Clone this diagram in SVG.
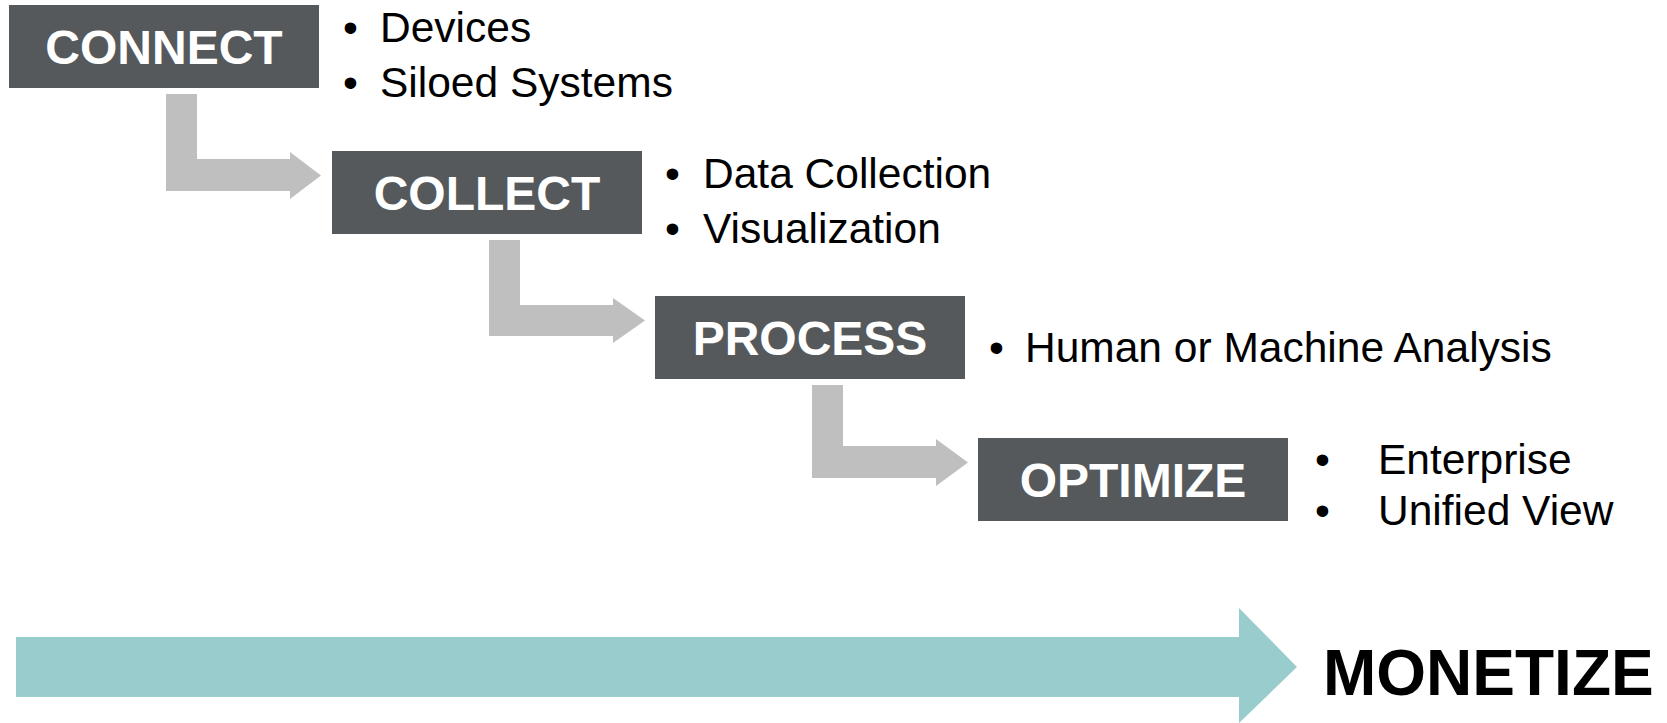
<svg xmlns="http://www.w3.org/2000/svg" width="1667" height="723" viewBox="0 0 1667 723">
<style>
.box{fill:#55595C}
.lbl{font-family:"Liberation Sans",Arial,sans-serif;font-weight:bold;font-size:48px;fill:#FFFFFF;text-anchor:middle}
.txt{font-family:"Liberation Sans",Arial,sans-serif;font-size:42.5px;fill:#000000}
.conn{fill:#BFBFBF}
.big{fill:#99CCCC}
.mon{font-family:"Liberation Sans",Arial,sans-serif;font-weight:bold;font-size:64px;fill:#000000}
</style>
<rect width="1667" height="723" fill="#FFFFFF"/>
<g id="connectors">
<path class="conn" d="M166,94 H197 V159 H290 V152 L321,175.5 L290,199 V191 H166 Z"/>
<path class="conn" d="M489,240 H520 V305 H613 V298 L645,320.5 L613,343 V336 H489 Z"/>
<path class="conn" d="M812,385 H843 V446 H936 V439 L968,462.5 L936,486 V478 H812 Z"/>
<path class="big" d="M16,637 H1239 V608 L1297,667 L1239,723 V697 H16 Z"/>
</g>
<g id="connect">
<rect class="box" x="9" y="5" width="310" height="83"/>
<text class="lbl" x="164" y="64">CONNECT</text>
<text class="txt" x="343" y="42">•</text>
<text class="txt" x="380" y="42">Devices</text>
<text class="txt" x="343" y="97">•</text>
<text class="txt" x="380" y="97">Siloed Systems</text>
</g>
<g id="collect">
<rect class="box" x="332" y="151" width="310" height="83"/>
<text class="lbl" x="487" y="210">COLLECT</text>
<text class="txt" x="665" y="188">•</text>
<text class="txt" x="703" y="188">Data Collection</text>
<text class="txt" x="665" y="243">•</text>
<text class="txt" x="703" y="243">Visualization</text>
</g>
<g id="process">
<rect class="box" x="655" y="296" width="310" height="83"/>
<text class="lbl" x="810" y="355">PROCESS</text>
<text class="txt" x="989" y="362">•</text>
<text class="txt" x="1025" y="362">Human or Machine Analysis</text>
</g>
<g id="optimize">
<rect class="box" x="978" y="438" width="310" height="83"/>
<text class="lbl" x="1133" y="497">OPTIMIZE</text>
<text class="txt" x="1315" y="474">•</text>
<text class="txt" x="1378" y="474">Enterprise</text>
<text class="txt" x="1315" y="525">•</text>
<text class="txt" x="1378" y="525">Unified View</text>
</g>
<g id="monetize">
<text class="mon" x="1323" y="695">MONETIZE</text>
</g>
</svg>
